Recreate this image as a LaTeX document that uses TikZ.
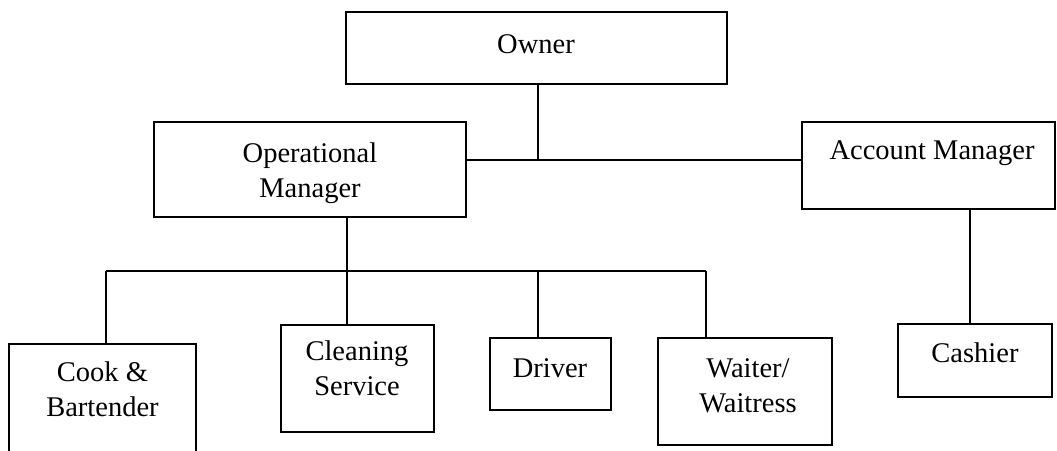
\documentclass[tikz,border=0pt]{standalone}
\usepackage{fontspec}
\setmainfont{Liberation Serif}
\begin{document}
\begin{tikzpicture}[x=1pt,y=-1pt,
  box/.style={draw, line width=1.7pt, rectangle, inner sep=0pt},
  link/.style={draw, line width=1.6pt},
  lbl/.style={anchor=base, align=center, inner sep=0pt, font=\fontsize{28.5}{35}\selectfont}]
\useasboundingbox (0,0) rectangle (1057,450);
% boxes
\node[box, minimum width=381pt, minimum height=72pt] (owner) at (536.5,48) {};
\node[box, minimum width=312pt, minimum height=95pt] (opm) at (310,169.5) {};
\node[box, minimum width=253pt, minimum height=87pt] (acc) at (928.5,165.5) {};
\node[box, minimum width=187pt, minimum height=126pt] (cook) at (102.5,407) {};
\node[box, minimum width=153pt, minimum height=107pt] (clean) at (357.5,378.5) {};
\node[box, minimum width=121pt, minimum height=72pt] (driver) at (550.5,374) {};
\node[box, minimum width=174pt, minimum height=107pt] (waiter) at (745,391.5) {};
\node[box, minimum width=154pt, minimum height=73pt] (cashier) at (975,360.5) {};
% labels (base anchor = baseline of the last line)
\node[lbl] (tOwner) at (536,53) {Owner};
\node[lbl] (tOpm) at (310,197) {Operational\\Manager};
\node[lbl] (tAcc) at (932,159) {Account Manager};
\node[lbl] (tCook) at (102.5,416) {Cook \&\\Bartender};
\node[lbl] (tClean) at (357,395) {Cleaning\\Service};
\node[lbl] (tDriver) at (550,377) {Driver};
\node[lbl] (tWaiter) at (748,412) {Waiter/\\Waitress};
\node[lbl] (tCashier) at (975,362) {Cashier};
% junctions
\coordinate (j1) at (538,160);
\coordinate (busL) at (106,271);
\coordinate (busR) at (706,271);
% connectors
\draw[link] (owner.south -| j1) -- (j1);
\draw[link] (opm.east |- j1) -- (acc.west |- j1);
\draw[link] (opm.south -| 347,0) -- (clean.north -| 347,0);
\draw[link] (busL) -- (busR);
\draw[link] (busL) -- (cook.north -| busL);
\draw[link] (driver.north -| j1) -- (j1 |- busL);
\draw[link] (busR) -- (waiter.north -| busR);
\draw[link] (acc.south -| 970,0) -- (cashier.north -| 970,0);
\end{tikzpicture}
\end{document}
